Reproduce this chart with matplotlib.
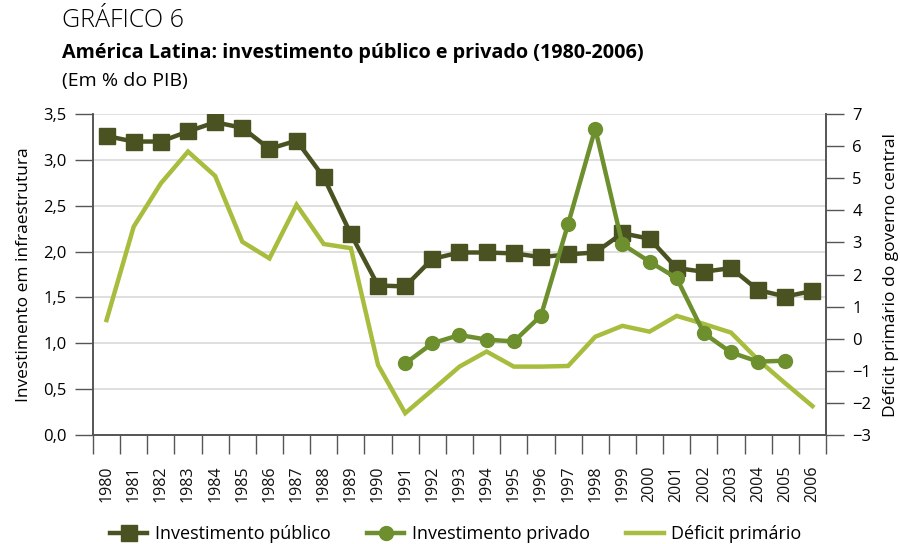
import matplotlib
matplotlib.use("Agg")
import matplotlib.pyplot as plt
from matplotlib.lines import Line2D
from matplotlib.ticker import FuncFormatter, MultipleLocator

plt.rcParams['font.family'] = ['Open Sans', 'DejaVu Sans']

years = [str(y) for y in range(1980, 2007)]
publico = [3.26, 3.20, 3.20, 3.31, 3.41, 3.35, 3.12, 3.21, 2.81, 2.19,
           1.63, 1.62, 1.92, 1.99, 1.99, 1.98, 1.94, 1.97, 1.99, 2.20,
           2.14, 1.82, 1.78, 1.82, 1.58, 1.51, 1.57]
# private investment starts in 1991
privado_years = list(range(11, 26))
privado = [0.78, 1.00, 1.09, 1.04, 1.02, 1.30, 2.30, 3.34, 2.08, 1.89,
           1.71, 1.11, 0.90, 0.80, 0.81]
deficit = [0.58, 3.49, 4.84, 5.83, 5.07, 3.02, 2.50, 4.17, 2.95, 2.82,
           -0.82, -2.32, -1.60, -0.87, -0.40, -0.87, -0.87, -0.85, 0.06, 0.40,
           0.22, 0.71, 0.46, 0.19, -0.66, -1.39, -2.10]

c_pub = '#4a5221'
c_priv = '#6d8f2e'
c_def = '#a6bd3e'
c_axis = '#555555'

fig = plt.figure(figsize=(9, 5.44), dpi=100)
ax = fig.add_axes([0.1033, 0.2004, 0.8145, 0.59])
ax2 = ax.twinx()

x = list(range(len(years)))
ax.set_xlim(-0.5, len(years) - 0.5)
ax.set_ylim(0, 3.5)
ax2.set_ylim(-3, 7)

# deficit line drawn in ax (below the others) but on the right-hand scale
ax.plot(x, deficit, color=c_def, lw=3.2, zorder=2, transform=ax2.transData,
        solid_joinstyle='miter')
ax.plot(x, publico, color=c_pub, lw=3.2, marker='s', ms=11.5, zorder=3)
ax.plot(privado_years, privado, color=c_priv, lw=3.2, marker='o', ms=10, zorder=4)

ax.yaxis.set_major_locator(MultipleLocator(0.5))
ax.yaxis.set_major_formatter(FuncFormatter(lambda v, p: f'{v:.1f}'.replace('.', ',')))
ax.grid(True, axis='y', color='#d9d9d9', lw=1.2)
ax.set_axisbelow(True)

ax.set_xticks(x)
ax.set_xticklabels(years, rotation=90)
ax.set_xticks([i - 0.5 for i in range(len(years) + 1)], minor=True)
ax.tick_params(axis='x', which='major', length=0, pad=22, labelsize=11.5, colors='#111111')
ax.tick_params(axis='x', which='minor', length=14, width=1, color=c_axis, direction='out')
ax.tick_params(axis='y', length=13, width=1, color=c_axis, labelsize=12, pad=6)
ax2.set_yticks(range(-3, 8))
ax2.tick_params(axis='y', length=13, width=1, color=c_axis, labelsize=12, pad=6)

for a in (ax, ax2):
    a.spines['top'].set_visible(False)
    for s in ('left', 'right', 'bottom'):
        a.spines[s].set_color(c_axis)
        a.spines[s].set_linewidth(1.2)

ax.set_ylabel('Investimento em infraestrutura', fontsize=12.5, labelpad=8)
ax2.set_ylabel('Déficit primário do governo central', fontsize=12.5, labelpad=8)

fig.text(0.069, 0.963, 'GRÁFICO 6', fontsize=18, fontweight='light', va='center')
fig.text(0.069, 0.903, 'América Latina: investimento público e privado (1980-2006)',
         fontsize=14.2, fontweight='bold', va='center')
fig.text(0.069, 0.851, '(Em % do PIB)', fontsize=14, va='center')

handles = [
    Line2D([], [], color=c_pub, lw=3.2, marker='s', ms=11.5),
    Line2D([], [], color=c_priv, lw=3.2, marker='o', ms=10),
    Line2D([], [], color=c_def, lw=3.2),
]
labels = ['Investimento público', 'Investimento privado', 'Déficit primário']
fig.legend(handles, labels, loc='center', bbox_to_anchor=(0.506, 0.018), ncol=3,
           frameon=False, fontsize=13, handlelength=2.1, columnspacing=2.0,
           handletextpad=0.4)

fig.savefig('out.png', dpi=100)
